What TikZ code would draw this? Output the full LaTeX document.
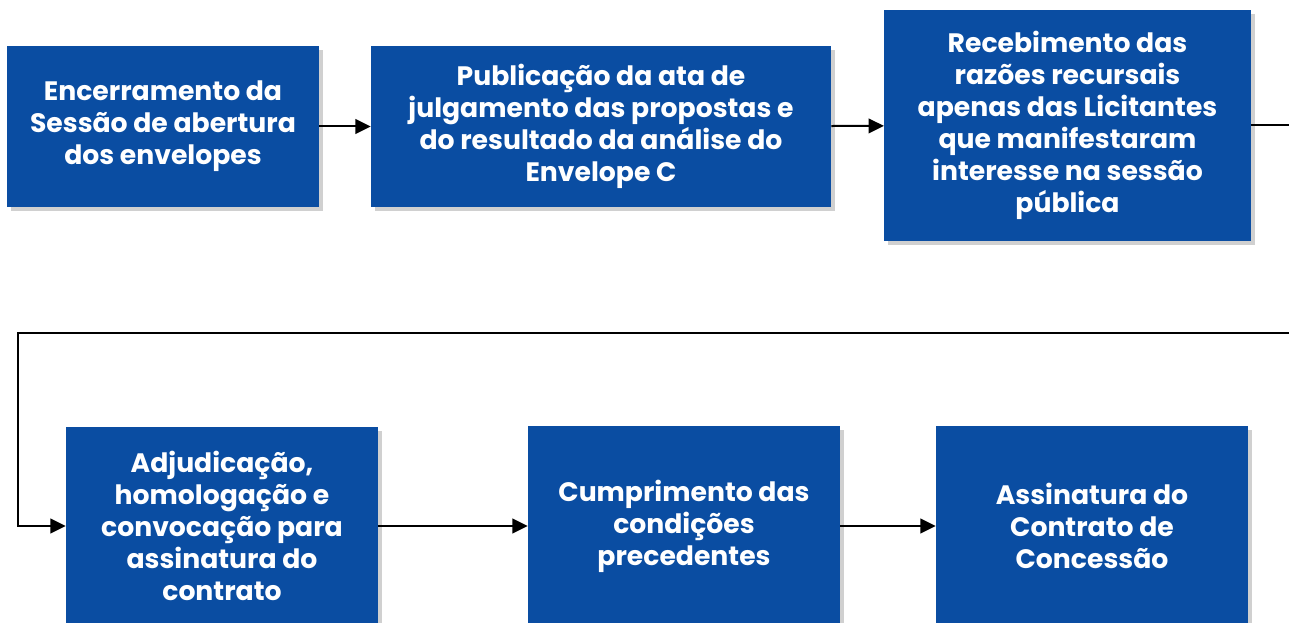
\documentclass[tikz,border=0pt]{standalone}
\usepackage{fontspec}
\setmainfont{Poppins}[BoldFont={* Bold}]
\usetikzlibrary{arrows.meta,shadows}
\definecolor{stepblue}{HTML}{0A4DA2}
\begin{document}
\begin{tikzpicture}
[x=0.75pt, y=-0.75pt,
 every node/.style={font=\bfseries\fontsize{20}{24}\selectfont, align=center, text=white},
 stepbox/.style={fill=stepblue, inner sep=0pt,
   drop shadow={shadow xshift=3pt, shadow yshift=-3pt, opacity=0.3, fill=black!60}},
 flow/.style={line width=1.5pt, -{Triangle[length=11.5pt,width=11pt]}}]
\path[use as bounding box, clip] (0,0) rectangle (1289,623);
\fill[white] (0,0) rectangle (1289,623);
\node (1) at (163,126.5) [stepbox, minimum width=234pt, minimum height=121pt] {Encerramento da\\
                                        Sessão de abertura\\
                                        dos envelopes};
\node (2) at (601,126.5) [stepbox, minimum width=345pt, minimum height=121pt] {Publicação da ata de\\
                                        julgamento das propostas e\\
                                        do resultado da análise do\\
                                        Envelope C};
\node (3) at (1067.5,125.5) [stepbox, minimum width=275pt, minimum height=173pt] {Recebimento das\\
                                        razões recursais\\
                                        apenas das Licitantes\\
                                        que manifestaram\\
                                        interesse na sessão\\
                                        pública};
\node (4) at (222,526) [stepbox, minimum width=234pt, minimum height=148.5pt] {Adjudicação,\\
                                        homologação e\\
                                        convocação para\\
                                        assinatura do\\
                                        contrato};
\node (5) at (684,526) [stepbox, minimum width=234pt, minimum height=150pt] {Cumprimento das\\
                                        condições\\
                                        precedentes};
\node (6) at (1092,526) [stepbox, minimum width=234pt, minimum height=150pt] {Assinatura do\\
                                        Contrato de\\
                                        Concessão};
\coordinate (loopR) at (1300,333);
\coordinate (loopL) at (18,333);
\draw [flow] (1) -- (2);
\draw [flow] (2) -- (3);
\draw [flow] (3.east) -| (loopR) -- (loopL) |- (4.west);
\draw [flow] (4) -- (5);
\draw [flow] (5) -- (6);
\end{tikzpicture}
\end{document}
